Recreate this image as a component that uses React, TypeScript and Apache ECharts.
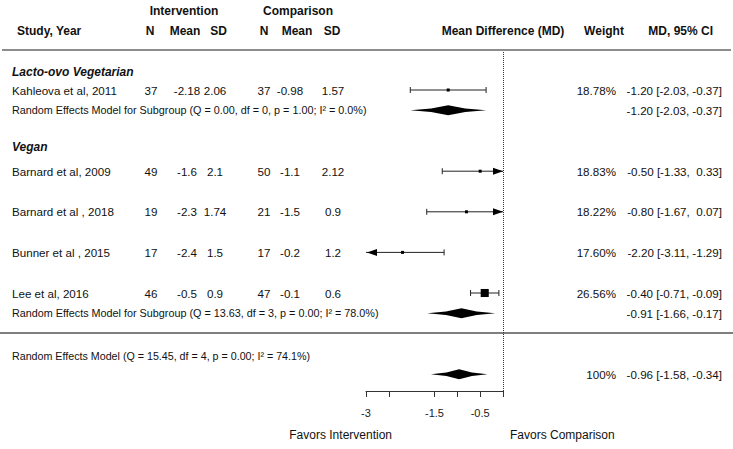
import React, { useEffect, useRef } from "react";
import * as echarts from "echarts";

// ---------------- data ----------------
const studies = [
  "Kahleova et al, 2011",
  "Barnard et al, 2009",
  "Barnard et al , 2018",
  "Bunner et al , 2015",
  "Lee et al, 2016",
];
const studyGroup = [0, 1, 1, 1, 1];
const interventionN = ["37", "49", "19", "17", "46"];
const interventionMean = ["-2.18", "-1.6", "-2.3", "-2.4", "-0.5"];
const interventionSD = ["2.06", "2.1", "1.74", "1.5", "0.9"];
const comparisonN = ["37", "50", "21", "17", "47"];
const comparisonMean = ["-0.98", "-1.1", "-1.5", "-0.2", "-0.1"];
const comparisonSD = ["1.57", "2.12", "0.9", "1.2", "0.6"];
const studyMD = [-1.2, -0.5, -0.8, -2.2, -0.4];
const studyLower = [-2.03, -1.33, -1.67, -3.11, -0.71];
const studyUpper = [-0.37, 0.33, 0.07, -1.29, -0.09];
const studyWeight = ["18.78%", "18.83%", "18.22%", "17.60%", "26.56%"];

const subgroupNames = ["Lacto-ovo Vegetarian", "Vegan"];
const subgroupLabels = [
  "Random Effects Model for Subgroup (Q = 0.00, df = 0, p = 1.00; I² = 0.0%)",
  "Random Effects Model for Subgroup (Q = 13.63, df = 3, p = 0.00; I² = 78.0%)",
];
const subgroupMD = [-1.2, -0.91];
const subgroupLower = [-2.03, -1.66];
const subgroupUpper = [-0.37, -0.17];

const overallLabel = "Random Effects Model (Q = 15.45, df = 4, p = 0.00; I² = 74.1%)";
const overallMD = [-0.96];
const overallLower = [-1.58];
const overallUpper = [-0.34];
const overallWeight = ["100%"];

const tickValues = [-3, -2.5, -1.5, -1, -0.5, 0];
const tickLabelValues = [-3, -1.5, -0.5];
const axisMin = -3;
const axisMax = 0;

// ---------------- layout ----------------
const W = 733;
const H = 449;
const GRID_TOP = 52;
const GRID_BOTTOM = 391;
const ROW_PITCH = 20.3;
const Y_MIN = -(90 - GRID_TOP) / ROW_PITCH;
const Y_MAX = Y_MIN + (GRID_BOTTOM - GRID_TOP) / ROW_PITCH;
const studyRows = [0, 4, 6, 8, 10];
const subgroupRows = [1, 11];
const sectionRows = [-0.9, 2.8];
const overallLabelRow = 13.1;
const overallRow = 14;
const separatorY = 333;

const FONT = "'Liberation Sans', Arial, Helvetica, sans-serif";
const TEXT = "#111";

const col = {
  name: 12,
  iN: 151,
  iMean: 187,
  iSD: 215,
  cN: 264,
  cMean: 290,
  cSD: 333,
  weight: 616,
  ci: 722,
};

type Item = { kind: string; i: number; row: number };
const items: Item[] = [];
subgroupNames.forEach((_, g) => {
  items.push({ kind: "section", i: g, row: sectionRows[g] });
  studies.forEach((__, s) => {
    if (studyGroup[s] === g) items.push({ kind: "study", i: s, row: studyRows[s] });
  });
  items.push({ kind: "subgroup", i: g, row: subgroupRows[g] });
});
items.push({ kind: "label", i: 0, row: overallLabelRow });
items.push({ kind: "overall", i: 0, row: overallRow });

const fmt = (v: number) => v.toFixed(2);
const ciText = (m: number, lo: number, up: number) =>
  `${fmt(m)} [${fmt(lo)}, ${up >= 0 ? " " : ""}${fmt(up)}]`;

function textEl(text: string, x: number, y: number, align: string, extra: any = {}) {
  return {
    type: "text",
    x,
    y,
    silent: true,
    style: {
      text,
      fill: TEXT,
      fontSize: 11.6,
      fontFamily: FONT,
      align,
      textAlign: align,
      verticalAlign: "middle",
      textVerticalAlign: "middle",
      ...extra,
    },
  };
}

const renderItem = (params: any, api: any) => {
  const it = items[params.dataIndex];
  const y = api.coord([0, it.row])[1];
  const X = (v: number) => api.coord([v, it.row])[0];
  const children: any[] = [];

  const whisker = (m: number, lo: number, up: number) => {
    const xl = X(Math.max(lo, axisMin));
    const xu = X(Math.min(up, axisMax));
    const xc = X(m);
    children.push({ type: "line", shape: { x1: xl, y1: y, x2: xu, y2: y }, style: { stroke: "#222", lineWidth: 1 } });
    if (lo < axisMin) {
      children.push({ type: "polygon", shape: { points: [[xl + 1, y], [xl + 11, y - 3.5], [xl + 11, y + 3.5]] }, style: { fill: "#000" } });
    } else {
      children.push({ type: "line", shape: { x1: xl, y1: y - 3, x2: xl, y2: y + 3 }, style: { stroke: "#222", lineWidth: 1 } });
    }
    if (up > axisMax) {
      children.push({ type: "polygon", shape: { points: [[xu, y], [xu - 10, y - 3.5], [xu - 10, y + 3.5]] }, style: { fill: "#000" } });
    } else {
      children.push({ type: "line", shape: { x1: xu, y1: y - 3, x2: xu, y2: y + 3 }, style: { stroke: "#222", lineWidth: 1 } });
    }
    const s = Math.max(3, 5 / (up - lo));
    children.push({ type: "rect", shape: { x: xc - s / 2, y: y - s / 2, width: s, height: s }, style: { fill: "#000" } });
  };

  const diamond = (m: number, lo: number, up: number) => {
    const xl = X(lo);
    const xu = X(up);
    const xc = X(m);
    const h = 5;
    const q1 = xl + (xc - xl) * 0.55;
    const q3 = xu - (xu - xc) * 0.55;
    children.push({
      type: "polygon",
      shape: {
        points: [
          [xl, y],
          [q1, y - h * 0.35],
          [xc, y - h],
          [q3, y - h * 0.35],
          [xu, y],
          [q3, y + h * 0.35],
          [xc, y + h],
          [q1, y + h * 0.35],
        ],
      },
      style: { fill: "#000" },
    });
  };

  if (it.kind === "section") {
    children.push(textEl(subgroupNames[it.i], col.name, y, "left", { fontWeight: "bold", fontStyle: "italic", fontSize: 12 }));
  } else if (it.kind === "study") {
    const s = it.i;
    children.push(textEl(studies[s], col.name, y, "left"));
    children.push(textEl(interventionN[s], col.iN, y, "center"));
    children.push(textEl(interventionMean[s], col.iMean, y, "center"));
    children.push(textEl(interventionSD[s], col.iSD, y, "center"));
    children.push(textEl(comparisonN[s], col.cN, y, "center"));
    children.push(textEl(comparisonMean[s], col.cMean, y, "center"));
    children.push(textEl(comparisonSD[s], col.cSD, y, "center"));
    children.push(textEl(studyWeight[s], col.weight, y, "right"));
    children.push(textEl(ciText(studyMD[s], studyLower[s], studyUpper[s]), col.ci, y, "right"));
    whisker(studyMD[s], studyLower[s], studyUpper[s]);
  } else if (it.kind === "subgroup") {
    const g = it.i;
    children.push(textEl(subgroupLabels[g], col.name, y, "left", { fontSize: 10.8 }));
    children.push(textEl(ciText(subgroupMD[g], subgroupLower[g], subgroupUpper[g]), col.ci, y, "right"));
    diamond(subgroupMD[g], subgroupLower[g], subgroupUpper[g]);
  } else if (it.kind === "label") {
    children.push(textEl(overallLabel, col.name, y, "left", { fontSize: 10.7 }));
  } else if (it.kind === "overall") {
    children.push(textEl(overallWeight[0], col.weight, y, "right"));
    children.push(textEl(ciText(overallMD[0], overallLower[0], overallUpper[0]), col.ci, y, "right"));
    diamond(overallMD[0], overallLower[0], overallUpper[0]);
  }
  return { type: "group", children };
};

function headerText(text: string, x: number, y: number, align: string, extra: any = {}) {
  return {
    type: "text",
    x,
    y,
    silent: true,
    style: {
      text,
      fill: TEXT,
      font: `bold 12px ${FONT}`,
      fontSize: 12,
      fontWeight: "bold",
      fontFamily: FONT,
      align,
      textAlign: align,
      verticalAlign: "middle",
      textVerticalAlign: "middle",
      ...extra,
    },
  };
}

export default function App() {
  const ref = useRef<HTMLDivElement>(null);
  useEffect(() => {
    document.body.style.margin = "0";
    if (!ref.current) return;
    const chart = echarts.init(ref.current, undefined, { renderer: "svg" });
    const option: any = {
      animation: false,
      backgroundColor: "#fff",
      grid: { left: 366, right: W - 503, top: GRID_TOP, bottom: H - GRID_BOTTOM, containLabel: false },
      xAxis: {
        type: "value",
        min: axisMin,
        max: axisMax,
        interval: 0.5,
        position: "bottom",
        axisLine: { show: true, onZero: false, lineStyle: { color: "#333", width: 1 } },
        axisTick: { show: true, length: 6, customValues: tickValues, lineStyle: { color: "#333", width: 1 } },
        axisLabel: {
          show: true,
          customValues: tickLabelValues,
          margin: 16,
          fontSize: 11,
          color: "#222",
          fontFamily: FONT,
        },
        splitLine: { show: false },
      },
      yAxis: { type: "value", inverse: true, min: Y_MIN, max: Y_MAX, show: false },
      graphic: [
        headerText("Intervention", 184, 11, "center"),
        headerText("Comparison", 298, 11, "center"),
        headerText("Study, Year", 17, 31, "left"),
        headerText("N", 150, 31, "center"),
        headerText("Mean", 185, 31, "center"),
        headerText("SD", 218.5, 31, "center"),
        headerText("N", 264, 31, "center"),
        headerText("Mean", 297, 31, "center"),
        headerText("SD", 332, 31, "center"),
        headerText("Mean Difference (MD)", 503, 31, "center"),
        headerText("Weight", 604, 31, "center"),
        headerText("MD, 95% CI", 713, 31, "right"),
        { type: "line", silent: true, shape: { x1: 2, y1: 50, x2: 731, y2: 50 }, style: { stroke: "#666", lineWidth: 1.5 } },
        { type: "line", silent: true, shape: { x1: 0, y1: separatorY, x2: 733, y2: separatorY }, style: { stroke: "#555", lineWidth: 1.5 } },
        headerText("Favors Intervention", 392, 435, "right", { font: `12px ${FONT}`, fontWeight: "normal" }),
        headerText("Favors Comparison", 510, 435, "left", { font: `12px ${FONT}`, fontWeight: "normal" }),
      ],
      series: [
        {
          type: "custom",
          renderItem,
          clip: false,
          silent: true,
          data: items.map((it) => [0, it.row]),
          markLine: {
            silent: true,
            symbol: "none",
            label: { show: false },
            lineStyle: { type: "dotted", color: "#333", width: 1 },
            data: [{ xAxis: 0 }],
          },
        },
      ],
    };
    chart.setOption(option);
    return () => chart.dispose();
  }, []);
  return <div ref={ref} style={{ position: "absolute", left: 0, top: 0, width: W, height: H }} />;
}
